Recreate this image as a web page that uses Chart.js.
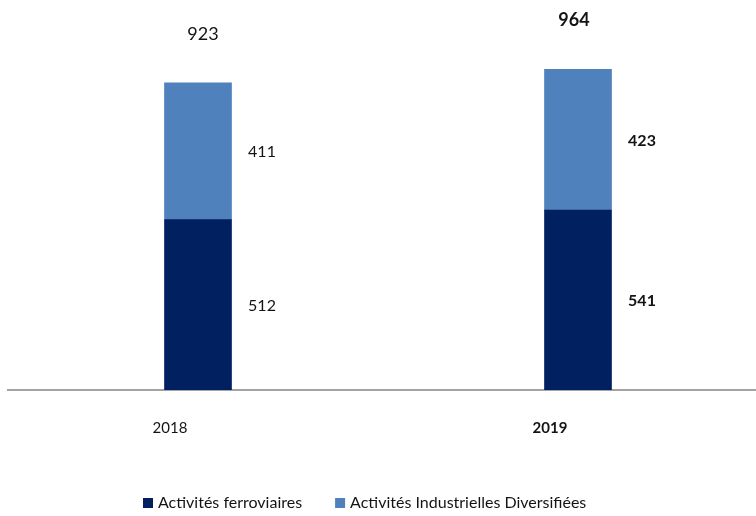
<!DOCTYPE html>
<html>
<head>
<meta charset="utf-8">
<script src="https://cdn.jsdelivr.net/npm/chart.js@4/dist/chart.umd.min.js"></script>
<style>
  html, body { margin: 0; padding: 0; background: #fff; overflow: hidden; }
  /* plot area runs past the right edge in the original, so the canvas is a bit wider than the window */
  #wrap { position: relative; width: 768px; height: 516px; }
</style>
</head>
<body>
<div id="wrap"><canvas id="chart"></canvas></div>
<script>
// values
const years = ['2018', '2019'];
const ferroviaires = [512, 541];
const industrielles = [411, 423];
const totals = [923, 964];
const boldYear = [false, true]; // latest year shown in bold

const FONT = 'Lato, "Open Sans", sans-serif';
const TEXT = '#141414';

document.addEventListener('DOMContentLoaded', function() {
    const ctx = document.getElementById('chart');

    // value labels: totals above, segment values to the right of each bar
    const valueLabels = {
        id: 'valueLabels',
        afterDatasetsDraw(chart) {
            const c = chart.ctx;
            c.save();
            c.fillStyle = TEXT;
            c.textAlign = 'center';
            c.textBaseline = 'middle';
            chart.data.datasets.forEach(function(ds, di) {
                const meta = chart.getDatasetMeta(di);
                meta.data.forEach(function(bar, i) {
                    c.font = (boldYear[i] ? 'bold ' : '') + '16px ' + FONT;
                    c.fillText(String(ds.data[i]), bar.x + 64, (bar.y + bar.base) / 2 + 1);
                });
            });
            const top = chart.getDatasetMeta(chart.data.datasets.length - 1);
            top.data.forEach(function(bar, i) {
                c.font = (boldYear[i] ? 'bold ' : '') + '18px ' + FONT;
                c.fillText(String(totals[i]), bar.x + (i === 0 ? 5 : -4), bar.y - 49);
            });
            c.restore();
        },
        afterDraw(chart) {
            // legend drawn by hand so it can sit left of centre like the original
            const c = chart.ctx;
            c.save();
            c.font = '16px ' + FONT;
            c.textBaseline = 'middle';
            let x = 143;
            const y = 503;
            chart.data.datasets.forEach(function(ds) {
                c.fillStyle = ds.backgroundColor;
                c.fillRect(x, y - 5, 10, 10);
                c.fillStyle = TEXT;
                c.textAlign = 'left';
                c.fillText(ds.label, x + 15, y);
                x += 15 + c.measureText(ds.label).width + 33;
            });
            c.restore();
        }
    };

    new Chart(ctx, {
        type: 'bar',
        data: {
            labels: years,
            datasets: [{
                label: 'Activités ferroviaires',
                data: ferroviaires,
                backgroundColor: '#002060',
                barThickness: 67
            }, {
                label: 'Activités Industrielles Diversifiées',
                data: industrielles,
                backgroundColor: '#4f81bd',
                barThickness: 67
            }]
        },
        options: {
            responsive: true,
            maintainAspectRatio: false,
            animation: false,
            layout: {
                padding: { left: 8, right: 0, top: 24, bottom: 50 }
            },
            plugins: {
                legend: { display: false },
                tooltip: { enabled: false }
            },
            scales: {
                x: {
                    stacked: true,
                    offset: true,
                    grid: { display: false, drawTicks: false },
                    border: { display: true, color: '#a3a3a3', width: 2 },
                    ticks: {
                        color: TEXT,
                        padding: 29,
                        labelOffset: -28,
                        font: function(c) {
                            return { family: FONT, size: 15, weight: boldYear[c.index] ? 'bold' : 'normal' };
                        }
                    }
                },
                y: {
                    stacked: true,
                    display: false,
                    min: 0,
                    max: 1100
                }
            }
        },
        plugins: [valueLabels]
    });
});
</script>
</body>
</html>
